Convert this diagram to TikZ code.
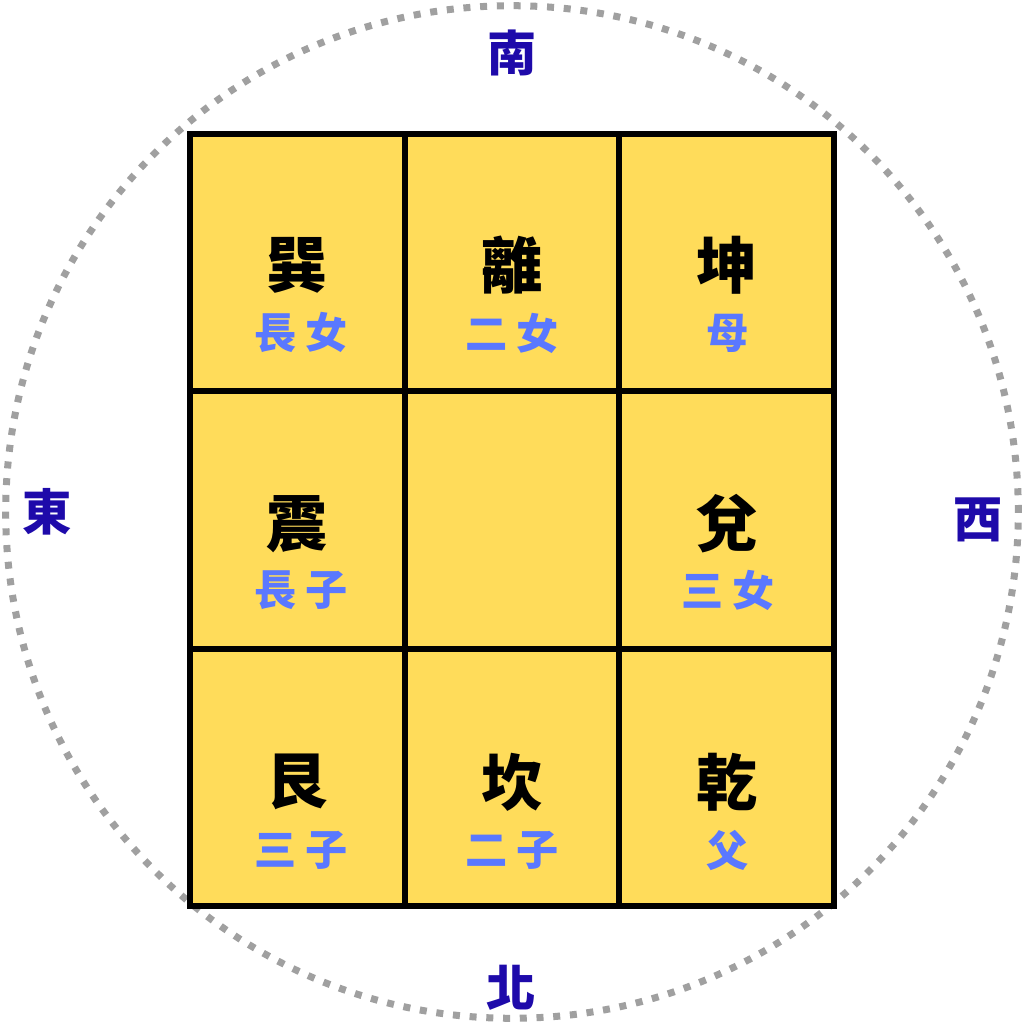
\documentclass[tikz,border=0pt]{standalone}
\usepackage{xcolor}
\usepackage{fontspec}
\newfontfamily\cjk{Noto Sans CJK TC}
\usetikzlibrary{positioning}

\definecolor{cellyellow}{HTML}{FFDC5A}
\definecolor{roleblue}{HTML}{5A78FF}
\definecolor{dirnavy}{HTML}{1E0AAA}
\definecolor{ringgray}{HTML}{A0A0A0}

\tikzset{
  cell/.style={draw=black, fill=cellyellow, line width=0.06cm, inner sep=0pt,
    minimum width=2.147cm, minimum height=2.573cm},
  trigram/.style={font=\cjk\bfseries\fontsize{17.4}{18}\selectfont, text=black, inner sep=0pt},
  role/.style={font=\cjk\bfseries\fontsize{12}{13}\selectfont, text=roleblue, inner sep=0pt},
  compass/.style={font=\cjk\bfseries\fontsize{14}{15}\selectfont, text=dirnavy, inner sep=0pt},
  dotring/.style={draw=ringgray, line width=0.07cm, dash pattern=on 0.07cm off 0.0973cm}
}

\begin{document}
\begin{tikzpicture}[x=0.01cm, y=-0.01cm]
\useasboundingbox (0,0) rectangle (1024,1024);

\coordinate (center) at (512,512);
\draw[dotring] (center) circle[radius=5.06cm];

\node[cell] (cell_sw) at (297.3,262.7) {};
\node[cell] (cell_s) at (512,262.7) {};
\node[cell] (cell_se) at (726.7,262.7) {};
\node[cell] (cell_w) at (297.3,520) {};
\node[cell] (cell_c) at (512,520) {};
\node[cell] (cell_e) at (726.7,520) {};
\node[cell] (cell_nw) at (297.3,777.3) {};
\node[cell] (cell_n) at (512,777.3) {};
\node[cell] (cell_ne) at (726.7,777.3) {};

\node[trigram] (xun) at (297.3,265) {巽};
\node[role] (xun_role) at (301,333) {長\hspace{0.2em}女};
\node[trigram] (li) at (512,265) {離};
\node[role] (li_role) at (512,333) {二\hspace{0.2em}女};
\node[trigram] (kun) at (726.7,265) {坤};
\node[role] (kun_role) at (728,333) {母};

\node[trigram] (zhen) at (297.3,524) {震};
\node[role] (zhen_role) at (301,590) {長\hspace{0.2em}子};
\node[trigram] (dui) at (726.7,524) {兌};
\node[role] (dui_role) at (728,590) {三\hspace{0.2em}女};

\node[trigram] (gen) at (297.3,782) {艮};
\node[role] (gen_role) at (301,850) {三\hspace{0.2em}子};
\node[trigram] (kan) at (512,782) {坎};
\node[role] (kan_role) at (512,850) {二\hspace{0.2em}子};
\node[trigram] (qian) at (726.7,782) {乾};
\node[role] (qian_role) at (728,850) {父};

\node[compass] (south) at (512,53) {南};
\node[compass] (east) at (47,512) {東};
\node[compass] (west) at (978,520) {西};
\node[compass] (north) at (511,988) {北};

\end{tikzpicture}
\end{document}
